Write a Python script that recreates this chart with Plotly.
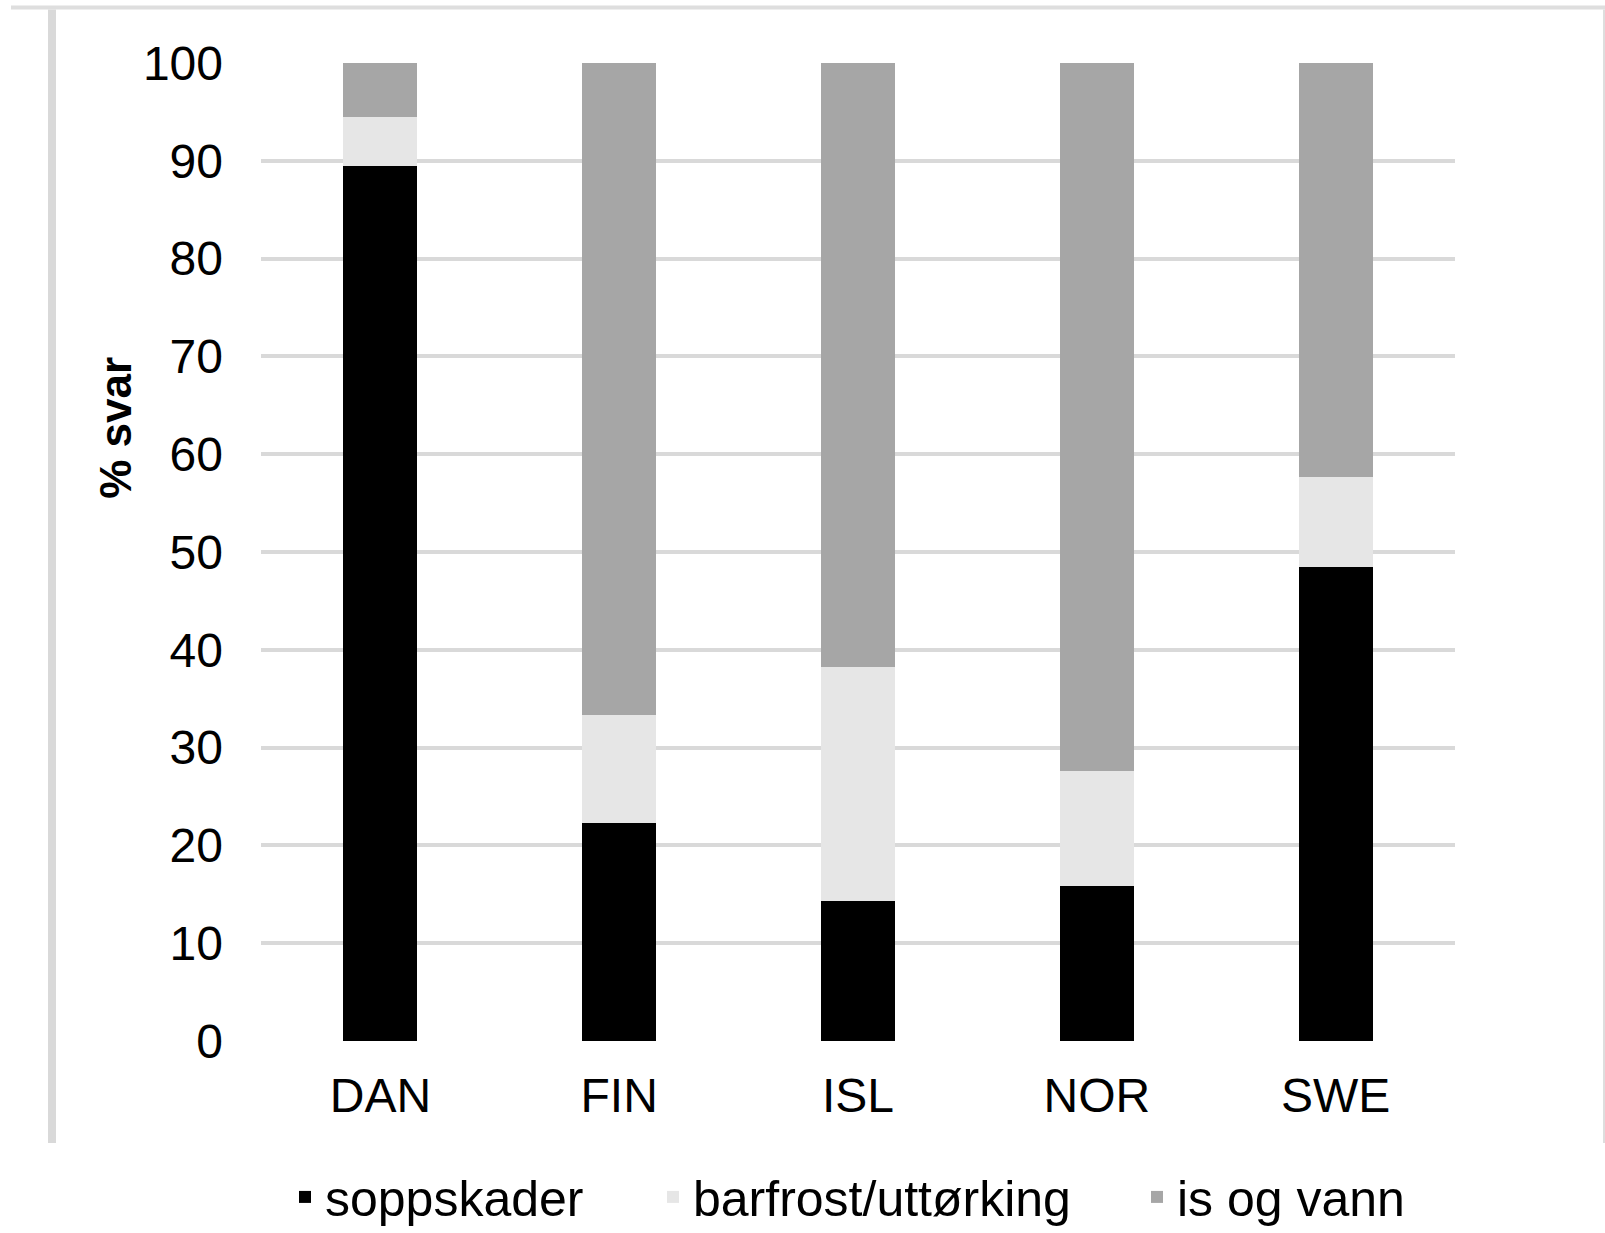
import plotly.graph_objects as go

# ---- data ----
countries = ["DAN", "FIN", "ISL", "NOR", "SWE"]
soppskader = [89.5, 22.3, 14.3, 15.9, 48.5]
barfrost = [5.0, 11.0, 23.9, 11.7, 9.2]
is_og_vann = [5.5, 66.7, 61.8, 72.4, 42.3]
series_names = ["soppskader", "barfrost/uttørking", "is og vann"]
y_ticks = [0, 10, 20, 30, 40, 50, 60, 70, 80, 90, 100]
y_title = "% svar"

# ---- style ----
W, H = 1605, 1233
PL, PR, PT, PB = 261, 1455, 62.5, 1041   # plot area in pixels
colors = ["#000000", "#e6e6e6", "#a6a6a6"]
FONT = "Liberation Sans, Arial, sans-serif"


def px(xp):
    return (xp - PL) / (PR - PL)


def py(yp):
    return (PB - yp) / (PB - PT)


fig = go.Figure()
legend_ids = ["legend", "legend2", "legend3"]
for vals, name, col, lg in zip([soppskader, barfrost, is_og_vann], series_names, colors, legend_ids):
    fig.add_trace(go.Bar(x=countries, y=vals, name=name, marker=dict(color=col, line=dict(width=0)),
                         width=0.31, legend=lg))

legend_text_left = [325, 693, 1177]
legend_common = dict(orientation="h", yanchor="middle", xanchor="left",
                     font=dict(family=FONT, size=50, color="#000000"),
                     bgcolor="rgba(0,0,0,0)", borderwidth=0)
layout_legends = {}
for lg, tl in zip(legend_ids, legend_text_left):
    layout_legends[lg] = dict(legend_common, x=px(tl - 40), y=py(1197))

fig.update_layout(
    width=W, height=H,
    margin=dict(l=PL, r=W - PR, t=PT, b=H - PB, pad=0, autoexpand=False),
    paper_bgcolor="white", plot_bgcolor="white",
    barmode="stack",
    showlegend=True,
    font=dict(family=FONT, color="#000000"),
    xaxis=dict(showgrid=False, showline=False, zeroline=False, ticks="",
               tickfont=dict(family=FONT, size=48, color="#000000"),
               ticklabelstandoff=22, range=[-0.5, 4.5]),
    yaxis=dict(range=[0, 100], tickvals=y_ticks, showgrid=True, gridcolor="#d9d9d9", gridwidth=4,
               zeroline=False, showline=False, ticks="",
               tickfont=dict(family=FONT, size=48, color="#000000"),
               ticklabelstandoff=37),
    **layout_legends,
)

fig.add_annotation(text="<b>" + y_title + "</b>", textangle=-90, xref="paper", yref="paper",
                   x=px(89), y=py(428), showarrow=False,
                   font=dict(family=FONT, size=44, color="#000000"))

# decorative frame lines (from original screenshot crop)
fig.add_shape(type="line", xref="paper", yref="paper", x0=px(11), x1=px(1605), y0=py(7), y1=py(7),
              line=dict(color="#dedede", width=4), layer="below")
fig.add_shape(type="line", xref="paper", yref="paper", x0=px(52), x1=px(52), y0=py(9), y1=py(1143),
              line=dict(color="#d9d9d9", width=8), layer="below")
fig.add_shape(type="line", xref="paper", yref="paper", x0=px(1604), x1=px(1604), y0=py(9), y1=py(1143),
              line=dict(color="#dedede", width=2), layer="below")

fig.write_html("out.html", config={"displayModeBar": False},
               post_script="document.body.style.margin='0';document.body.style.overflow='hidden';")
